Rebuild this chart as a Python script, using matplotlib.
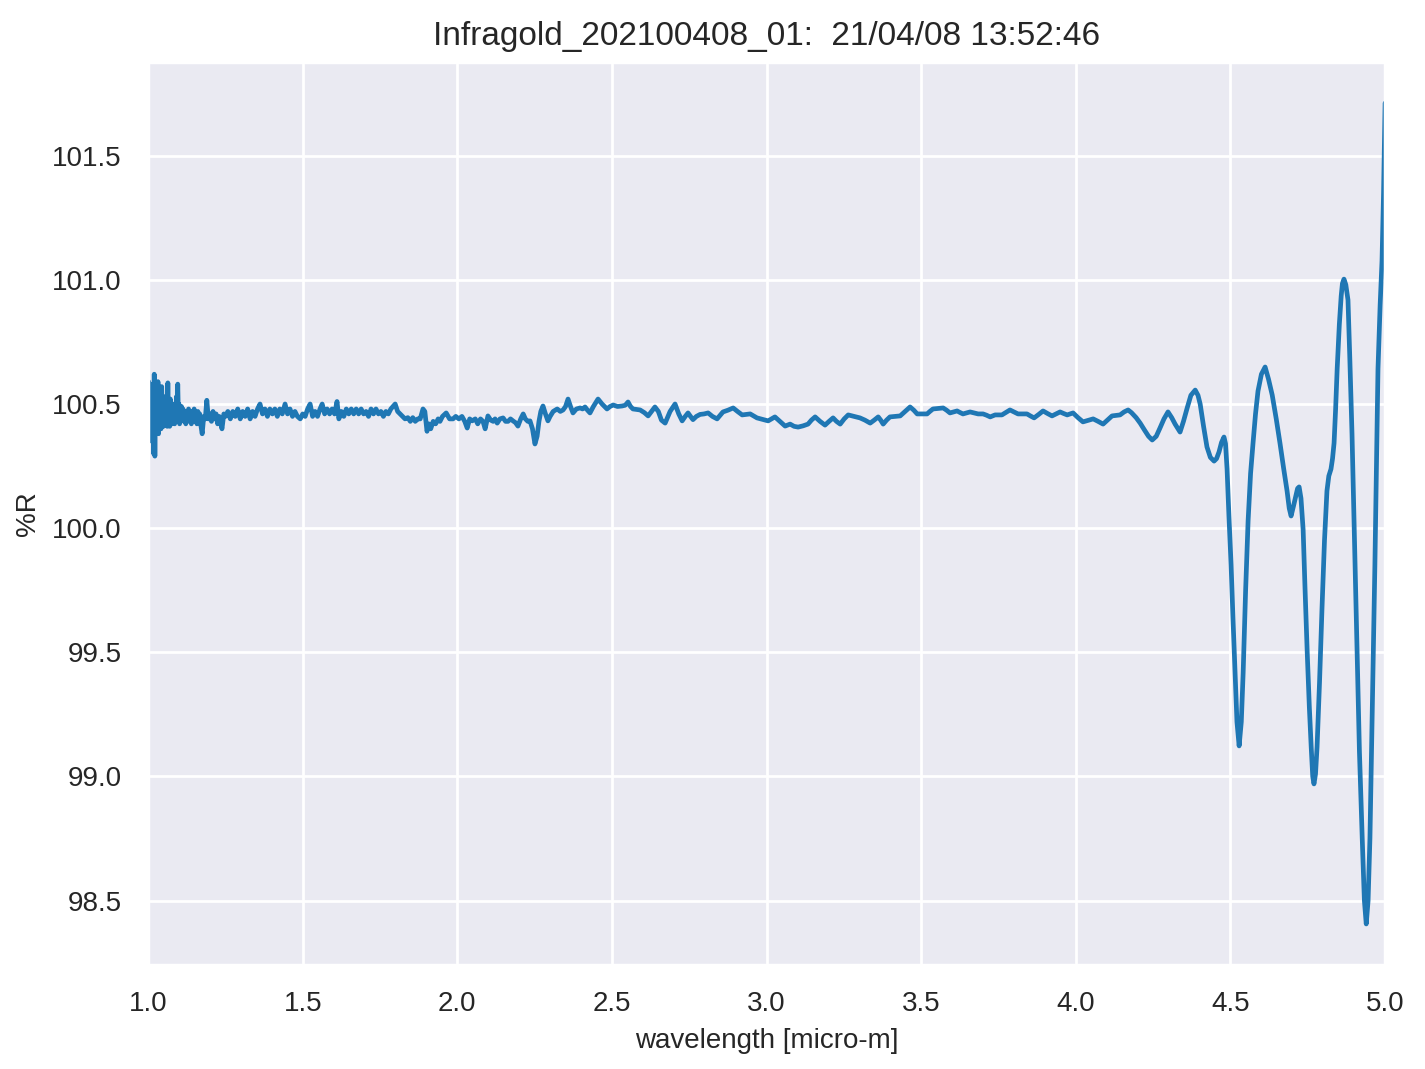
"""Reflectance spectrum of the Infragold reference target."""

import matplotlib.pyplot as plt
import seaborn as sns

TITLE = "Infragold_202100408_01:  21/04/08 13:52:46"
X_LABEL = "wavelength [micro-m]"
Y_LABEL = "%R"

# wavelength [micro-m] and %R
wavelength = [
    1.000, 1.002, 1.004, 1.006, 1.008, 1.010, 1.012, 1.014, 1.016, 1.018,
    1.020, 1.022, 1.024, 1.026, 1.028, 1.030, 1.032, 1.034, 1.036, 1.038,
    1.040, 1.042, 1.044, 1.046, 1.048, 1.050, 1.052, 1.054, 1.056, 1.058,
    1.060, 1.062, 1.064, 1.066, 1.068, 1.070, 1.072, 1.074, 1.076, 1.078,
    1.080, 1.082, 1.084, 1.086, 1.088, 1.090, 1.092, 1.094, 1.096, 1.098,
    1.100, 1.102, 1.104, 1.106, 1.108, 1.110, 1.113, 1.116, 1.119, 1.122,
    1.125, 1.128, 1.131, 1.134, 1.137, 1.140, 1.143, 1.146, 1.149, 1.152,
    1.155, 1.158, 1.161, 1.164, 1.167, 1.170, 1.175, 1.180, 1.185, 1.190,
    1.195, 1.200, 1.205, 1.210, 1.215, 1.220, 1.225, 1.230, 1.239, 1.245,
    1.250, 1.258, 1.266, 1.274, 1.282, 1.290, 1.298, 1.306, 1.314, 1.322,
    1.330, 1.338, 1.346, 1.354, 1.362, 1.370, 1.378, 1.386, 1.394, 1.402,
    1.410, 1.418, 1.426, 1.434, 1.443, 1.451, 1.459, 1.467, 1.475, 1.483,
    1.492, 1.500, 1.508, 1.516, 1.524, 1.532, 1.540, 1.548, 1.556, 1.563,
    1.571, 1.579, 1.587, 1.595, 1.603, 1.611, 1.617, 1.625, 1.633, 1.641,
    1.649, 1.657, 1.665, 1.673, 1.681, 1.689, 1.697, 1.705, 1.713, 1.721,
    1.729, 1.737, 1.745, 1.753, 1.761, 1.769, 1.777, 1.785, 1.799, 1.807,
    1.815, 1.823, 1.831, 1.840, 1.848, 1.856, 1.864, 1.872, 1.880, 1.889,
    1.895, 1.902, 1.908, 1.914, 1.922, 1.930, 1.938, 1.944, 1.952, 1.964,
    1.975, 1.986, 1.995, 2.005, 2.015, 2.024, 2.032, 2.040, 2.048, 2.058,
    2.066, 2.075, 2.083, 2.090, 2.099, 2.108, 2.116, 2.122, 2.129, 2.138,
    2.148, 2.156, 2.164, 2.172, 2.180, 2.188, 2.196, 2.205, 2.213, 2.220,
    2.228, 2.235, 2.243, 2.251, 2.258, 2.264, 2.270, 2.277, 2.285, 2.293,
    2.300, 2.310, 2.323, 2.333, 2.342, 2.350, 2.358, 2.366, 2.374, 2.385,
    2.397, 2.405, 2.413, 2.421, 2.429, 2.440, 2.455, 2.468, 2.484, 2.494,
    2.504, 2.518, 2.533, 2.543, 2.552, 2.560, 2.568, 2.580, 2.591, 2.605,
    2.617, 2.628, 2.639, 2.650, 2.660, 2.672, 2.688, 2.704, 2.716, 2.727,
    2.737, 2.746, 2.754, 2.762, 2.773, 2.785, 2.798, 2.811, 2.825, 2.840,
    2.850, 2.859, 2.875, 2.892, 2.906, 2.921, 2.934, 2.947, 2.958, 2.969,
    2.987, 3.005, 3.016, 3.027, 3.043, 3.060, 3.076, 3.089, 3.102, 3.118,
    3.134, 3.145, 3.157, 3.173, 3.189, 3.202, 3.215, 3.226, 3.238, 3.251,
    3.264, 3.283, 3.302, 3.318, 3.335, 3.348, 3.361, 3.369, 3.377, 3.388,
    3.399, 3.415, 3.432, 3.448, 3.464, 3.476, 3.487, 3.503, 3.519, 3.528,
    3.538, 3.555, 3.571, 3.582, 3.593, 3.605, 3.616, 3.625, 3.635, 3.646,
    3.658, 3.671, 3.684, 3.700, 3.711, 3.723, 3.731, 3.739, 3.750, 3.761,
    3.774, 3.787, 3.800, 3.813, 3.828, 3.842, 3.853, 3.865, 3.880, 3.894,
    3.908, 3.923, 3.936, 3.949, 3.960, 3.972, 3.981, 3.991, 4.007, 4.023,
    4.040, 4.056, 4.072, 4.088, 4.102, 4.117, 4.130, 4.143, 4.156, 4.169,
    4.180, 4.195, 4.208, 4.222, 4.235, 4.247, 4.260, 4.272, 4.285, 4.298,
    4.310, 4.321, 4.337, 4.348, 4.360, 4.372, 4.386, 4.395, 4.402, 4.413,
    4.424, 4.435, 4.447, 4.455, 4.463, 4.471, 4.479, 4.484, 4.489, 4.495,
    4.502, 4.508, 4.515, 4.521, 4.528, 4.535, 4.541, 4.549, 4.557, 4.565,
    4.573, 4.581, 4.589, 4.600, 4.612, 4.623, 4.635, 4.648, 4.660, 4.672,
    4.683, 4.690, 4.696, 4.704, 4.712, 4.717, 4.722, 4.728, 4.735, 4.741,
    4.748, 4.755, 4.761, 4.766, 4.770, 4.775, 4.780, 4.788, 4.796, 4.804,
    4.812, 4.818, 4.825, 4.830, 4.835, 4.840, 4.845, 4.852, 4.858, 4.862,
    4.867, 4.873, 4.880, 4.886, 4.893, 4.901, 4.909, 4.917, 4.926, 4.933,
    4.939, 4.945, 4.951, 4.959, 4.967, 4.972, 4.977, 4.984, 4.990, 4.995,
    5.000,
]
reflectance = [
    100.40, 100.59, 100.35, 100.55, 100.38, 100.52, 100.42, 100.58, 100.44, 100.30,
    100.62, 100.29, 100.56, 100.40, 100.52, 100.42, 100.59, 100.38, 100.55, 100.42,
    100.50, 100.40, 100.57, 100.45, 100.52, 100.41, 100.50, 100.44, 100.53, 100.42,
    100.48, 100.41, 100.585, 100.43, 100.50, 100.41, 100.52, 100.44, 100.49, 100.42,
    100.50, 100.46, 100.48, 100.42, 100.47, 100.43, 100.53, 100.45, 100.58, 100.46,
    100.50, 100.42, 100.48, 100.43, 100.49, 100.44, 100.48, 100.43, 100.47, 100.42,
    100.47, 100.44, 100.48, 100.43, 100.47, 100.42, 100.46, 100.44, 100.48, 100.43,
    100.46, 100.42, 100.47, 100.44, 100.46, 100.42, 100.38, 100.45, 100.44, 100.515,
    100.44, 100.46, 100.43, 100.47, 100.44, 100.46, 100.42, 100.45, 100.40, 100.46,
    100.45, 100.47, 100.44, 100.47, 100.45, 100.48, 100.44, 100.47, 100.45, 100.48,
    100.44, 100.47, 100.45, 100.48, 100.50, 100.46, 100.48, 100.45, 100.48, 100.46,
    100.48, 100.45, 100.48, 100.46, 100.50, 100.46, 100.48, 100.45, 100.47, 100.45,
    100.44, 100.46, 100.45, 100.48, 100.50, 100.45, 100.47, 100.45, 100.48, 100.50,
    100.46, 100.48, 100.46, 100.48, 100.46, 100.51, 100.44, 100.47, 100.45, 100.48,
    100.46, 100.48, 100.46, 100.48, 100.46, 100.48, 100.46, 100.47, 100.45, 100.48,
    100.46, 100.48, 100.46, 100.47, 100.45, 100.47, 100.46, 100.48, 100.50, 100.47,
    100.46, 100.45, 100.44, 100.445, 100.43, 100.445, 100.43, 100.44, 100.44, 100.48,
    100.47, 100.39, 100.42, 100.40, 100.43, 100.42, 100.44, 100.43, 100.45, 100.464,
    100.44, 100.44, 100.45, 100.44, 100.45, 100.43, 100.403, 100.44, 100.432, 100.44,
    100.42, 100.44, 100.43, 100.40, 100.452, 100.435, 100.43, 100.44, 100.423, 100.44,
    100.444, 100.43, 100.43, 100.44, 100.432, 100.425, 100.411, 100.44, 100.46, 100.44,
    100.43, 100.432, 100.40, 100.339, 100.37, 100.43, 100.47, 100.492, 100.46, 100.432,
    100.45, 100.47, 100.48, 100.47, 100.476, 100.49, 100.52, 100.49, 100.464, 100.48,
    100.484, 100.48, 100.488, 100.475, 100.464, 100.49, 100.52, 100.50, 100.48, 100.49,
    100.496, 100.49, 100.492, 100.495, 100.508, 100.49, 100.48, 100.478, 100.476, 100.465,
    100.452, 100.47, 100.488, 100.47, 100.435, 100.423, 100.47, 100.50, 100.46, 100.432,
    100.45, 100.464, 100.45, 100.437, 100.45, 100.458, 100.46, 100.464, 100.45, 100.44,
    100.455, 100.468, 100.475, 100.484, 100.47, 100.456, 100.458, 100.46, 100.452, 100.444,
    100.438, 100.432, 100.44, 100.448, 100.43, 100.411, 100.419, 100.41, 100.407, 100.412,
    100.419, 100.435, 100.448, 100.43, 100.415, 100.43, 100.444, 100.43, 100.419, 100.44,
    100.456, 100.45, 100.444, 100.435, 100.423, 100.435, 100.448, 100.435, 100.419, 100.435,
    100.448, 100.45, 100.452, 100.47, 100.488, 100.475, 100.46, 100.46, 100.46, 100.47,
    100.48, 100.482, 100.484, 100.475, 100.464, 100.468, 100.472, 100.466, 100.46, 100.464,
    100.468, 100.464, 100.46, 100.46, 100.455, 100.448, 100.452, 100.456, 100.456, 100.456,
    100.466, 100.476, 100.468, 100.46, 100.46, 100.46, 100.452, 100.444, 100.458, 100.472,
    100.462, 100.452, 100.46, 100.468, 100.462, 100.456, 100.46, 100.464, 100.445, 100.428,
    100.434, 100.44, 100.43, 100.419, 100.435, 100.452, 100.454, 100.456, 100.468, 100.476,
    100.465, 100.445, 100.423, 100.395, 100.37, 100.355, 100.37, 100.403, 100.44, 100.468,
    100.445, 100.419, 100.387, 100.43, 100.484, 100.535, 100.556, 100.535, 100.50, 100.41,
    100.327, 100.285, 100.27, 100.28, 100.307, 100.345, 100.367, 100.34, 100.238, 100.05,
    99.852, 99.64, 99.417, 99.22, 99.123, 99.22, 99.417, 99.75, 100.029, 100.22,
    100.343, 100.46, 100.552, 100.62, 100.649, 100.60, 100.536, 100.44, 100.343, 100.24,
    100.15, 100.08, 100.049, 100.09, 100.134, 100.16, 100.166, 100.12, 99.993, 99.76,
    99.505, 99.28, 99.119, 99.00, 98.97, 99.01, 99.119, 99.38, 99.678, 99.95,
    100.15, 100.21, 100.238, 100.28, 100.343, 100.48, 100.641, 100.82, 100.935, 100.985,
    101.003, 100.98, 100.919, 100.68, 100.379, 99.95, 99.505, 99.10, 98.752, 98.50,
    98.406, 98.50, 98.752, 99.30, 99.852, 100.25, 100.641, 100.90, 101.076, 101.35,
    101.712,
]


def _setup_style() -> None:
    sns.set_theme(style="darkgrid")
    plt.rcParams["font.family"] = ["Liberation Sans", "DejaVu Sans"]
    plt.rcParams.update({"axes.labelsize": 10, "xtick.labelsize": 10, "ytick.labelsize": 10})


def main() -> None:
    assert len(wavelength) == len(reflectance)
    _setup_style()
    fig, ax = plt.subplots(figsize=(7.125, 5.345), dpi=200)
    fig.subplots_adjust(left=0.1039, right=0.972, bottom=0.0973, top=0.942)

    ax.plot(wavelength, reflectance, color="#1f77b4", linewidth=1.7)
    ax.set_xlim(1.0, 5.0)
    ax.set_xlabel(X_LABEL)
    ax.set_ylabel(Y_LABEL)
    ax.set_title(TITLE)

    fig.savefig("out.png", dpi=200)
    plt.close(fig)


if __name__ == "__main__":
    main()
